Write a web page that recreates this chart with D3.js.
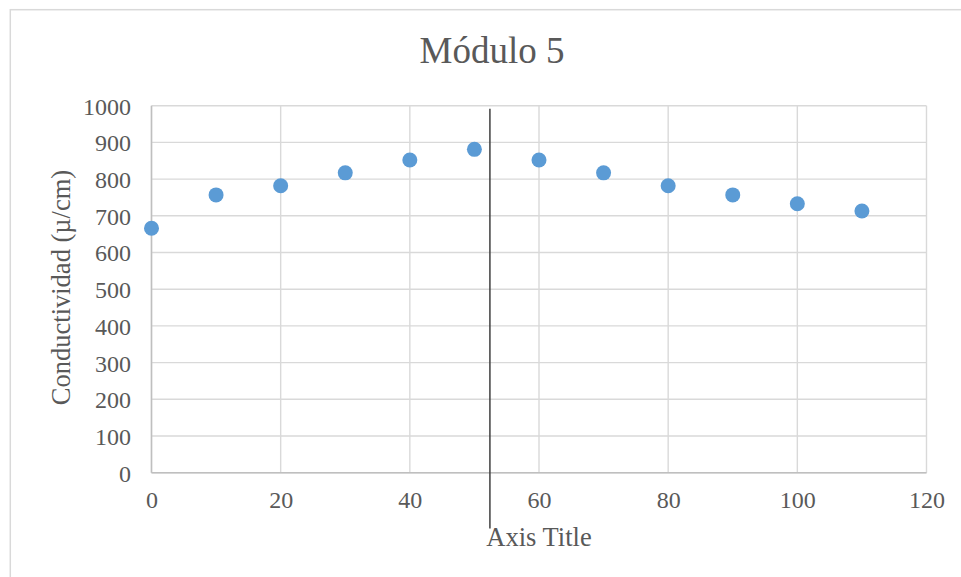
<!DOCTYPE html>
<html>
<head>
<meta charset="utf-8">
<script src="https://cdn.jsdelivr.net/npm/d3@7"></script>
<style>
  html, body { margin: 0; padding: 0; background: #fff; }
  svg { display: block; }
  text { font-family: "Liberation Serif", "Times New Roman", serif; fill: #595959; }
</style>
</head>
<body>
<svg id="chart" width="961" height="577"></svg>
<script>
// ---- data ----
const xValues = [0, 10, 20, 30, 40, 50, 60, 70, 80, 90, 100, 110];
const conductividad = [666, 757, 782, 817, 852, 881, 852, 817, 782, 757, 733, 713];
const xTicks = [0, 20, 40, 60, 80, 100, 120];
const yTicks = [0, 100, 200, 300, 400, 500, 600, 700, 800, 900, 1000];
const markerLineX = [52.4];
const markerLineY = [992, -152];
const chartTitle = "Módulo 5";
const xTitle = "Axis Title";
const yTitle = "Conductividad (µ/cm)";

// ---- layout ----
const W = 961, H = 577;
const plot = { left: 151.5, right: 926.5, top: 105.7, bottom: 472.7 };
const svg = d3.select("#chart");

// chart border
svg.append("rect")
  .attr("x", 10.3).attr("y", 9.7)
  .attr("width", W + 20).attr("height", H + 20)
  .attr("fill", "#fff").attr("stroke", "#d9d9d9").attr("stroke-width", 1.5);

const x = d3.scaleLinear().domain([0, 120]).range([plot.left, plot.right]);
const y = d3.scaleLinear().domain([0, 1000]).range([plot.bottom, plot.top]);

// gridlines
const grid = svg.append("g");
grid.selectAll("line.h").data(yTicks).join("line")
  .attr("x1", plot.left).attr("x2", plot.right)
  .attr("y1", d => y(d)).attr("y2", d => y(d))
  .attr("stroke", "#d9d9d9").attr("stroke-width", 1.4);
grid.selectAll("line.v").data(xTicks).join("line")
  .attr("x1", d => x(d)).attr("x2", d => x(d))
  .attr("y1", plot.top).attr("y2", plot.bottom)
  .attr("stroke", "#d9d9d9").attr("stroke-width", 1.4);

// axis lines
svg.append("line")
  .attr("x1", plot.left).attr("x2", plot.right)
  .attr("y1", y(0)).attr("y2", y(0))
  .attr("stroke", "#bfbfbf").attr("stroke-width", 1.5);
svg.append("line")
  .attr("x1", x(0)).attr("x2", x(0))
  .attr("y1", plot.top).attr("y2", plot.bottom)
  .attr("stroke", "#bfbfbf").attr("stroke-width", 1.5);

// axes via d3 axis generators (text only)
const xAxis = svg.append("g")
  .attr("transform", `translate(0,${plot.bottom})`)
  .call(d3.axisBottom(x).tickValues(xTicks).tickFormat(d3.format("d")).tickSize(0).tickPadding(0));
xAxis.select(".domain").remove();
xAxis.selectAll("text")
  .attr("y", 35).attr("dy", null)
  .style("font-size", "24px")
  .style("font-family", "'Liberation Serif', serif")
  .attr("fill", "#595959");

const yAxis = svg.append("g")
  .attr("transform", `translate(${plot.left},0)`)
  .call(d3.axisLeft(y).tickValues(yTicks).tickFormat(d3.format("d")).tickSize(0).tickPadding(0));
yAxis.select(".domain").remove();
yAxis.selectAll("text")
  .attr("x", -20.5).attr("dy", "0.35em")
  .style("font-size", "24px")
  .style("font-family", "'Liberation Serif', serif")
  .attr("fill", "#595959");

// points
svg.append("g").selectAll("circle")
  .data(xValues.map((d, i) => ({ x: d, y: conductividad[i] })))
  .join("circle")
  .attr("cx", d => x(d.x)).attr("cy", d => y(d.y))
  .attr("r", 7.5)
  .attr("fill", "#5b9bd5");

// vertical marker line
svg.append("g").selectAll("line")
  .data(markerLineX).join("line")
  .attr("x1", d => x(d)).attr("x2", d => x(d))
  .attr("y1", y(markerLineY[0])).attr("y2", y(markerLineY[1]))
  .attr("stroke", "#404040").attr("stroke-width", 1.5);

// titles
svg.append("text")
  .attr("x", (plot.left + plot.right) / 2 - 47).attr("y", 63.3)
  .attr("text-anchor", "middle")
  .style("font-size", "37px")
  .text(chartTitle);

svg.append("text")
  .attr("x", (plot.left + plot.right) / 2).attr("y", 546)
  .attr("text-anchor", "middle")
  .style("font-size", "26.5px")
  .text(xTitle);

svg.append("text")
  .attr("transform", `translate(69.5,${(170 + 405) / 2}) rotate(-90)`)
  .attr("text-anchor", "middle")
  .style("font-size", "26.5px")
  .text(yTitle);
</script>
</body>
</html>
